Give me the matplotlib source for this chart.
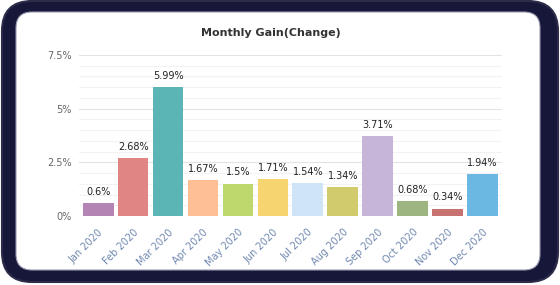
import numpy as np
import matplotlib.pyplot as plt
from matplotlib.patches import FancyBboxPatch

# =========================================================
# DATA
# =========================================================
months = ["Jan 2020", "Feb 2020", "Mar 2020", "Apr 2020", "May 2020", "Jun 2020",
          "Jul 2020", "Aug 2020", "Sep 2020", "Oct 2020", "Nov 2020", "Dec 2020"]
gains = [0.6, 2.68, 5.99, 1.67, 1.5, 1.71, 1.54, 1.34, 3.71, 0.68, 0.34, 1.94]
value_labels = ["0.6%", "2.68%", "5.99%", "1.67%", "1.5%", "1.71%",
                "1.54%", "1.34%", "3.71%", "0.68%", "0.34%", "1.94%"]
y_ticks = [0, 2.5, 5, 7.5]
y_tick_labels = ["0%", "2.5%", "5%", "7.5%"]

colors = ["#b384b4", "#e08583", "#5bb5b4", "#fdbf93", "#bfd86e", "#f6d46f",
          "#cfe5f7", "#d2cb6e", "#c6b5d8", "#9db580", "#c87171", "#6bb9e3"]

# =========================================================
# FIGURE + FRAME (sizes in inches, 100 dpi)
# =========================================================
fig = plt.figure(figsize=(5.6, 2.85), dpi=100)
fig.patch.set_facecolor("white")

rim = FancyBboxPatch((0.02, 0.03), 5.56, 2.81,
                     boxstyle="round,pad=0,rounding_size=0.3",
                     transform=fig.dpi_scale_trans, facecolor="#17173a",
                     edgecolor="#2c2c48", linewidth=1.5, zorder=-2)
fig.patches.append(rim)
panel = FancyBboxPatch((0.16, 0.15), 5.24, 2.58,
                       boxstyle="round,pad=0,rounding_size=0.16",
                       transform=fig.dpi_scale_trans, facecolor="white",
                       edgecolor="#9a9ab0", linewidth=0.8, zorder=-1)
fig.patches.append(panel)

ax = fig.add_axes([0.141, 0.242, 0.755, 0.565])
ax.set_facecolor("none")

x = np.arange(len(months))
ax.bar(x, gains, width=0.88, color=colors, zorder=3)

for xi, g, lab in zip(x, gains, value_labels):
    ax.text(xi, g + 0.3, lab, ha="center", va="bottom", fontsize=7, color="#222222", zorder=4)

# gridlines: major every 2.5, minor every 0.5
for v in np.arange(0, 7.51, 0.5):
    major = abs(v / 2.5 - round(v / 2.5)) < 1e-9
    ax.axhline(v, color="#e3e3e3" if major else "#f2f2f2", linewidth=0.8, zorder=1)

ax.set_xlim(-0.55, len(months) - 0.45)
ax.set_ylim(0, 7.5)
ax.set_yticks(y_ticks)
ax.set_yticklabels(y_tick_labels, fontsize=7, color="#666666")
ax.set_xticks(x)
ax.set_xticklabels(months, rotation=45, ha="right", rotation_mode="anchor",
                   fontsize=7, color="#7088b0")
ax.tick_params(axis="x", length=0, pad=8)
ax.tick_params(axis="y", length=0, pad=5)
for s in ax.spines.values():
    s.set_visible(False)

fig.text(0.483, 0.885, "Monthly Gain(Change)", ha="center", va="center",
         fontsize=8, fontweight="bold", color="#333333")

fig.savefig("out.png", dpi=100, facecolor=fig.get_facecolor())
